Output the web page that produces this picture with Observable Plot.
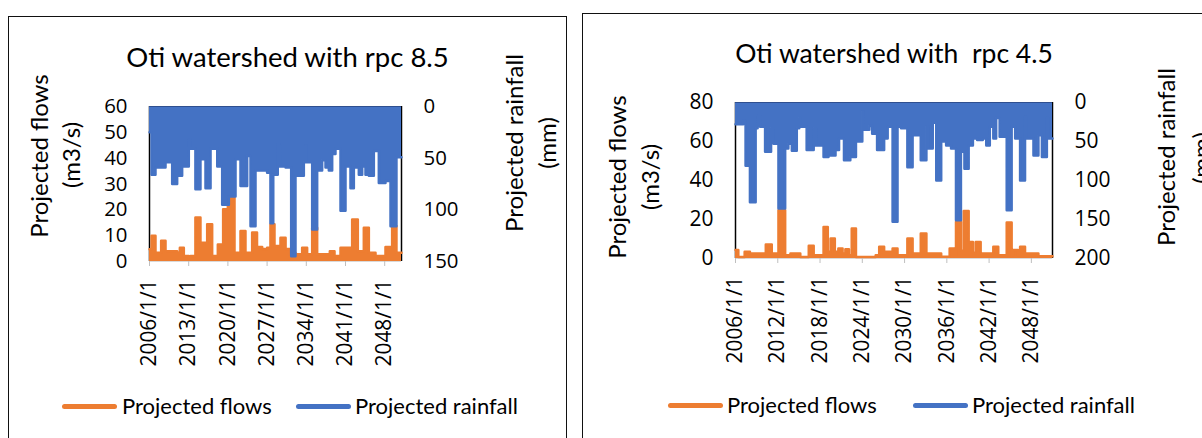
<!DOCTYPE html>
<html>
<head>
<meta charset="utf-8">
<script src="https://cdn.jsdelivr.net/npm/d3@7"></script>
<script src="https://cdn.jsdelivr.net/npm/@observablehq/plot@0.6"></script>
<style>
  html, body { margin: 0; padding: 0; background: #fff; }
  body { position: relative; width: 1202px; height: 438px; overflow: hidden; font-family: Lato, "Open Sans", sans-serif; }
  .panel { position: absolute; border: 1.5px solid #111; box-sizing: border-box; }
  .t { position: absolute; white-space: pre; line-height: 1; color: #000; font-family: Lato, "Open Sans", sans-serif; }
  .chart { position: absolute; }
  .chart svg { overflow: visible; }
  .leg { position: absolute; height: 5px; border-radius: 3px; }
</style>
</head>
<body>
<script>
// ---------- DATA ----------
// RCP 8.5 — projected rainfall (mm), envelope breakpoints (decimal year)
const rain85Years = [2006.0, 2006.36, 2007.07, 2008.86, 2010.05, 2010.94, 2011.83, 2013.02, 2013.32, 2014.2, 2015.1, 2016.0, 2016.9, 2018.1, 2018.98, 2020.17, 2021.36, 2022.25, 2023.44, 2024.04, 2024.93, 2026.12, 2027.0, 2027.6, 2028.1, 2028.9, 2029.27, 2030.3, 2031.3, 2032.07, 2033.56, 2033.86, 2034.05, 2035.05, 2035.94, 2036.83, 2037.43, 2038.02, 2038.62, 2039.21, 2040.11, 2041.0, 2041.89, 2042.49, 2043.38, 2043.98, 2044.57, 2045.17, 2046.06, 2046.95, 2048.14, 2049.04, 2050.1, 2051];
const rain85 = [25, 66, 59, 54, 75, 67, 58, 32, 41, 80, 51, 79, 41, 58, 95, 87, 51, 77, 48, 116, 62, 62, 64, 113, 66, 37, 58, 59, 145, 67, 54, 38, 54, 119, 62, 52, 59, 62, 46, 41, 101, 58, 79, 59, 66, 58, 66, 67, 43, 74, 72, 116, 49, 49];
// RCP 8.5 — projected flows (m3/s)
const flow85Years = [2006.0, 2006.36, 2007.07, 2008.08, 2008.86, 2010.94, 2011.42, 2012.13, 2013.02, 2013.32, 2014.2, 2015.1, 2016.3, 2017.19, 2018.2, 2019.15, 2019.99, 2021.18, 2022.25, 2023.14, 2024.33, 2025.2, 2026.12, 2027.0, 2027.6, 2028.32, 2029.39, 2030.3, 2031.18, 2032.07, 2033.26, 2034.15, 2035.05, 2035.94, 2038.2, 2039.04, 2040.11, 2042.19, 2043.2, 2044.27, 2045.17, 2046.36, 2048.14, 2049.33, 2050.1, 2051];
const flow85 = [4.7, 10, 3.4, 8, 4, 3.4, 5.3, 2.1, 1.5, 2.1, 17, 7.3, 14.4, 2.1, 6.6, 20.2, 24.7, 3.4, 11.8, 3.4, 11.2, 5.6, 4.8, 5.3, 14.4, 6, 9.2, 4.8, 3.4, 2.8, 5.3, 2.8, 13.1, 2.8, 4, 2.1, 5.3, 16.3, 4, 13.1, 3.4, 2.1, 5.6, 13.7, 3.4, 3.4];

// RCP 4.5 — projected rainfall (mm)
const rain45Years = [2006.0, 2007.1, 2007.43, 2008.05, 2008.86, 2009.14, 2009.48, 2010.2, 2011.05, 2011.4, 2012.1, 2013.05, 2013.5, 2014.0, 2014.7, 2015.05, 2015.2, 2016.1, 2017.1, 2017.4, 2018.5, 2019.2, 2020.2, 2020.7, 2021.4, 2022.3, 2023.1, 2024.0, 2024.2, 2025.0, 2025.4, 2026.1, 2027.1, 2027.6, 2028.3, 2029.0, 2029.5, 2030.4, 2031.14, 2032.3, 2033.1, 2033.4, 2034.0, 2034.5, 2035.2, 2035.9, 2036.6, 2037.3, 2038.0, 2038.5, 2039.1, 2039.7, 2040.3, 2041.1, 2041.6, 2042.1, 2042.6, 2043.0, 2043.5, 2044.5, 2045.2, 2045.7, 2046.4, 2047.1, 2047.3, 2048.3, 2049.0, 2049.5, 2050.2, 2050.4, 2051];
const rain45 = [28, 23, 81, 128, 33, 17, 31, 63, 33, 53, 136, 59, 53, 62, 33, 20, 31, 61, 33, 55, 70, 68, 61, 46, 74, 70, 50, 12, 35, 30, 40, 61, 46, 31, 153, 31, 33, 83, 42, 74, 31, 59, 26, 100, 50, 55, 59, 151, 63, 85, 55, 46, 48, 46, 55, 31, 46, 20, 44, 138, 31, 46, 100, 18, 46, 68, 42, 70, 20, 46, 46];
// RCP 4.5 — projected flows (m3/s)
const flow45Years = [2006.0, 2006.4, 2007.3, 2008.05, 2010.3, 2011.15, 2012.1, 2013.05, 2013.8, 2015.2, 2016.4, 2017.1, 2018.5, 2019.1, 2019.5, 2020.1, 2020.6, 2021.2, 2021.6, 2022.1, 2022.5, 2023.1, 2025.9, 2026.4, 2027.1, 2028.3, 2029.0, 2030.4, 2031.14, 2032.3, 2033.1, 2035.2, 2036.4, 2037.1, 2037.3, 2038.0, 2038.4, 2039.1, 2039.7, 2040.1, 2040.8, 2042.6, 2043.3, 2044.5, 2045.2, 2045.4, 2046.1, 2046.4, 2047.1, 2049.0, 2051];
const flow45 = [4.3, 0.8, 3.4, 2.6, 7.2, 2.6, 24.8, 1.7, 2.6, 0.8, 6.5, 1.7, 16.2, 3.4, 10.2, 3.4, 5.1, 2.6, 4.8, 1.7, 15.4, 0.8, 1.7, 6, 3.4, 5.1, 1.7, 10.2, 2.6, 12.8, 2.6, 0.9, 5.1, 0.9, 18.8, 4, 24.3, 8.5, 3, 8.5, 2.6, 6, 1.7, 18.5, 1.7, 4.3, 1.7, 6, 2.6, 1.2, 1.2];

// Axis ticks / labels
const xTicks85 = [2006, 2013, 2020, 2027, 2034, 2041, 2048];
const xTicks45 = [2006, 2012, 2018, 2024, 2030, 2036, 2042, 2048];
const flowTicks85 = [0, 10, 20, 30, 40, 50, 60];
const rainTicks85 = [0, 50, 100, 150];
const flowTicks45 = [0, 20, 40, 60, 80];
const rainTicks45 = [0, 50, 100, 150, 200];
const title85 = "Oti watershed with rpc 8.5";
const title45 = "Oti watershed with  rpc 4.5";
const flowLabel = ["Projected flows", "(m3/s)"];
const rainLabel = ["Projected rainfall", "(mm)"];
const seriesNames = ["Projected flows", "Projected rainfall"];

// ---------- STYLE ----------
const ORANGE = "#ED7D31", BLUE = "#4472C4";
const TICK_FONT = "'Open Sans', sans-serif";
const rows = (xs, vs) => xs.map((x, i) => ({x, v: vs[i]}));

function chart({rainY, rainV, flowY, flowV, xTicks, flowTicks, rainTicks, flowMax, rainMax, width, height, mt, mb, ml, mr}) {
  const k = flowMax / rainMax; // secondary (reversed) axis → primary units
  const rain = rows(rainY, rainV), flow = rows(flowY, flowV);
  const ry = d => flowMax - d.v * k;
  return Plot.plot({
    width, height, marginTop: mt, marginBottom: mb, marginLeft: ml, marginRight: mr,
    x: {domain: [2006, 2051]},
    y: {domain: [0, flowMax]},
    style: {fontFamily: TICK_FONT, fontSize: "21px", color: "#000", background: "transparent", overflow: "visible"},
    marks: [
      Plot.ruleY([0], {stroke: "#d9d9d9", strokeWidth: 1}),
      Plot.ruleX([2006, 2051], {stroke: "#000", strokeWidth: 1.5}),
      Plot.areaY(flow, {x: "x", y1: () => 0, y2: "v", curve: "step-after", fill: ORANGE}),
      Plot.lineY(flow, {x: "x", y: "v", curve: "step-after", stroke: ORANGE, strokeWidth: 2.5, strokeLinejoin: "round"}),
      Plot.areaY(rain, {x: "x", y1: () => flowMax, y2: ry, curve: "step-after", fill: BLUE}),
      Plot.lineY(rain, {x: "x", y: ry, curve: "step-after", stroke: BLUE, strokeWidth: 2.5, strokeLinejoin: "round"}),
      Plot.ruleY([flowMax], {stroke: "#2f4f8f", strokeWidth: 1.2}),
      Plot.axisX({ticks: xTicks, tickFormat: d => `${d}/1/1`, tickRotate: -90, tickSize: 5, tickPadding: 13, stroke: "#bfbfbf", fill: "#000", label: null}),
      Plot.axisY({anchor: "left", ticks: flowTicks, tickFormat: d => String(d), tickSize: 0, tickPadding: 22, fill: "#000", label: null}),
      Plot.axisY({anchor: "right", ticks: rainTicks.map(r => flowMax - r * k), tickFormat: y => String(Math.round((flowMax - y) / k)), tickSize: 0, tickPadding: 22, fill: "#000", label: null})
    ]
  });
}

// size tick labels so their rendered length matches the reference
function fitTexts(texts, target) {
  if (!texts.length) return;
  let maxLen = 0;
  texts.forEach(t => {
    t.setAttribute("font-size", 20); t.style.fontSize = "20px"; t.style.fontFamily = TICK_FONT;
    maxLen = Math.max(maxLen, t.getComputedTextLength());
  });
  if (maxLen > 0) {
    const fs = 20 * target / maxLen;
    texts.forEach(t => { t.setAttribute("font-size", fs); t.style.fontSize = fs + "px"; });
  }
}

function place(node, left, top, fits) {
  const d = document.createElement("div");
  d.className = "chart";
  d.style.left = left + "px"; d.style.top = top + "px";
  d.appendChild(node);
  document.body.appendChild(d);
  const all = Array.from(node.querySelectorAll("text"));
  fitTexts(all.filter(t => /\/1\/1$/.test(t.textContent)), fits.x);
  fitTexts(all.filter(t => /^\d+$/.test(t.textContent.trim())), fits.y);
}
function text(str, cx, cy, size, rotate) {
  const el = document.createElement("div");
  el.className = "t";
  el.textContent = str;
  el.style.left = cx + "px"; el.style.top = cy + "px"; el.style.fontSize = size + "px";
  el.style.transform = "translate(-50%,-50%)" + (rotate ? " rotate(-90deg)" : "");
  document.body.appendChild(el);
}
function legendItem(color, label, x0, x1, tx, cy) {
  const l = document.createElement("div");
  l.className = "leg";
  l.style.left = x0 + "px"; l.style.width = (x1 - x0) + "px"; l.style.top = (cy - 2.5) + "px"; l.style.background = color;
  document.body.appendChild(l);
  const el = document.createElement("div");
  el.className = "t";
  el.textContent = label;
  el.style.left = tx + "px"; el.style.top = cy + "px"; el.style.fontSize = "22px";
  el.style.transform = "translateY(-50%)";
  document.body.appendChild(el);
}
function panelBox(l, t, w, h) {
  const b = document.createElement("div");
  b.className = "panel";
  Object.assign(b.style, {left: l + "px", top: t + "px", width: w + "px", height: h + "px"});
  document.body.appendChild(b);
}

// ---------- LEFT PANEL (RCP 8.5) ----------
panelBox(8, 16, 559, 440);
place(chart({rainY: rain85Years, rainV: rain85, flowY: flow85Years, flowV: flow85, xTicks: xTicks85,
  flowTicks: flowTicks85, rainTicks: rainTicks85, flowMax: 60, rainMax: 150,
  width: 392, height: 280, mt: 10, mb: 115, ml: 70, mr: 70}), 79, 95.5, {x: 87, y: 35});
text(title85, 287.5, 57, 27.5);
text(flowLabel[0], 39, 156, 24, true);
text(flowLabel[1], 71, 155, 24, true);
text(rainLabel[0], 514, 143, 24, true);
text(rainLabel[1], 547, 143, 24, true);
legendItem(ORANGE, seriesNames[0], 62, 117, 122, 406);
legendItem(BLUE, seriesNames[1], 296, 351, 355, 406);

// ---------- RIGHT PANEL (RCP 4.5) ----------
panelBox(582, 13, 640, 440);
place(chart({rainY: rain45Years, rainV: rain45, flowY: flow45Years, flowV: flow45, xTicks: xTicks45,
  flowTicks: flowTicks45, rainTicks: rainTicks45, flowMax: 80, rainMax: 200,
  width: 457, height: 281, mt: 10, mb: 115, ml: 70, mr: 70}), 665.3, 92.3, {x: 87, y: 36});
text(title45, 894, 53, 26.5);
text(flowLabel[0], 617, 177, 24, true);
text(flowLabel[1], 650, 177, 24, true);
text(rainLabel[0], 1166, 157, 24, true);
text(rainLabel[1], 1201, 158, 24, true);
legendItem(ORANGE, seriesNames[0], 668, 723, 727, 405);
legendItem(BLUE, seriesNames[1], 913, 968, 972, 405);
</script>
</body>
</html>
